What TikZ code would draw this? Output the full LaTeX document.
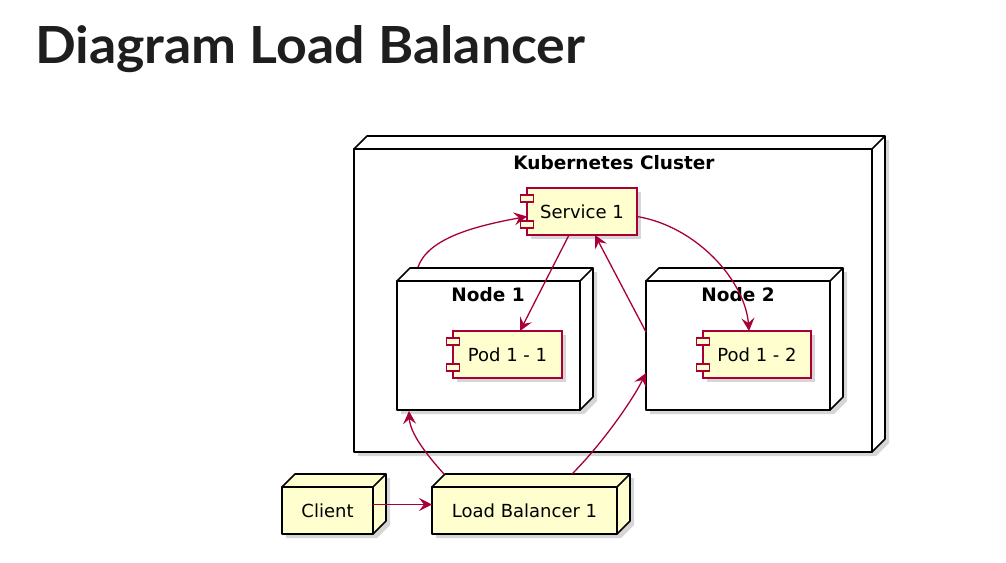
\documentclass[tikz,border=0pt]{standalone}
\usepackage{fontspec}
\usetikzlibrary{arrows.meta,calc}
\newfontfamily\djfont{DejaVu Sans}
\newfontfamily\titlefont{Lato}
\definecolor{umlfill}{HTML}{FEFECE}
\definecolor{umlred}{HTML}{A80036}
\definecolor{titlec}{HTML}{1E1E1E}
\tikzset{
  boxline/.style={draw=black,line width=1.6pt,line join=round},
  shadowc/.style={fill=black,opacity=0.16},
  cubeface/.style={boxline,rectangle,inner sep=0pt,outer sep=0pt,font=\djfont\fontsize{18}{21}\selectfont},
  compbox/.style={draw=umlred,fill=umlfill,line width=1.3pt,rectangle,inner sep=0pt,outer sep=0pt,font=\djfont\fontsize{18}{21}\selectfont},
  compline/.style={draw=umlred,fill=umlfill,line width=1.1pt},
  boxtitle/.style={font=\djfont\bfseries\fontsize{18.5}{21}\selectfont,inner sep=0pt},
  conn/.style={draw=umlred,line width=1.3pt,-{Stealth[length=13pt,width=13pt,inset=5pt]}},
}
% name, x1, y1, x2, y2, depth, fill, text
\newcommand\cubebox[8]{%
  \fill[shadowc] (#2+4,#3+4) -- (#2+#6+4,#3-#6+4) -- (#4+#6+4,#3-#6+4) -- (#4+#6+4,#5-#6+4) -- (#4+4,#5+4) -- (#2+4,#5+4) -- cycle;
  \filldraw[boxline,fill=#7] (#2,#3) -- (#2+#6,#3-#6) -- (#4+#6,#3-#6) -- (#4+#6,#5-#6) -- (#4,#5) -- (#4,#3) -- cycle;
  \node[cubeface,fill=#7,minimum width={(#4-#2)*1pt},minimum height={(#5-#3)*1pt}] (#1) at ({(#2+#4)/2},{(#3+#5)/2}) {#8};
  \draw[boxline] (#1.north east) -- ++(#6,-#6);
}
% name, x1, y1, x2, y2, text
\newcommand\compbox[6]{%
  \fill[shadowc] (#2+4,#3+4) rectangle (#4+4,#5+4);
  \node[compbox,minimum width={(#4-#2)*1pt},minimum height={(#5-#3)*1pt}] (#1) at ({(#2+#4)/2},{(#3+#5)/2}) {#6};
  \filldraw[compline] (#2-6.5,#3+7) rectangle (#2+6.5,#3+14);
  \filldraw[compline] (#2-6.5,#5-14) rectangle (#2+6.5,#5-7);
}
\begin{document}
\begin{tikzpicture}[x=1pt,y=-1pt]
\useasboundingbox[fill=white] (0,0) rectangle (1006,562);
% title
\node[anchor=base west,inner sep=0pt,text=titlec] (title) at (35,63)
  {\resizebox{550pt}{38pt}{\titlefont\bfseries Diagram Load Balancer}};
% cluster
\cubebox{cluster}{354}{149}{872}{452}{13}{white}{}
\node[boxtitle] (clustertitle) at (614,163) {Kubernetes Cluster};
% service
\compbox{svc}{527}{188}{637}{235}{Service 1}
% node 1
\cubebox{n1}{397}{281}{580}{410}{13}{white}{}
\node[boxtitle] (n1title) at (488,295) {Node 1};
\compbox{pod11}{453}{331}{562}{378}{Pod 1 - 1}
% node 2
\cubebox{n2}{646}{281}{830}{410}{13}{white}{}
\node[boxtitle] (n2title) at (738,295) {Node 2};
\compbox{pod12}{703}{331}{811}{378}{Pod 1 - 2}
% client and load balancer
\cubebox{client}{282}{487}{373}{534}{13}{umlfill}{Client}
\cubebox{lb}{432}{487}{617}{534}{13}{umlfill}{Load Balancer 1}
% connectors
\draw[conn] ($(client.east)+(0,-6)$) -- ($(lb.west)+(0,-6)$);
\draw[conn] ($(lb.north west)+(12,-13)$) .. controls +(-18,-20) and +(1,22) .. ($(n1.south west)+(12,1)$);
\draw[conn] ($(lb.north west)+(140,-13)$) .. controls +(28,-28) and +(-15,30) .. ($(n2.south west)+(0,-37)$);
\draw[conn] ($(n1.north west)+(21,-14)$) .. controls +(10,-28) and +(-55,10) .. ($(svc.west)+(0,5)$);
\draw[conn] ($(svc.south west)+(42,0)$) -- ($(pod11.north west)+(67,0)$);
\draw[conn] ($(n2.north west)+(0,51)$) -- ($(svc.south west)+(68,0)$);
\draw[conn] ($(svc.east)+(0,5)$) .. controls +(60,10) and +(-4,-50) .. ($(pod12.north west)+(46,0)$);
\end{tikzpicture}
\end{document}
